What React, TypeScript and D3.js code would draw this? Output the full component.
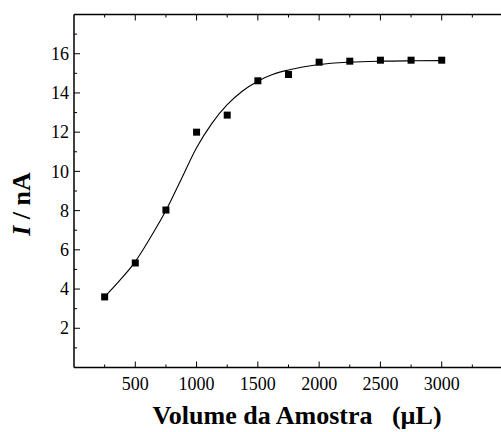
import React from "react";
import * as d3 from "d3";

const volumes = [250, 500, 750, 1000, 1250, 1500, 1750, 2000, 2250, 2500, 2750, 3000];
const currents = [3.6, 5.33, 8.03, 12.0, 12.87, 14.62, 14.94, 15.57, 15.62, 15.67, 15.67, 15.67];

const fitX = [250, 375, 500, 625, 750, 875, 1000, 1125, 1250, 1375, 1500, 1625, 1750, 2000, 2250, 2500, 2750, 3000];
const fitY = [3.6, 4.45, 5.4, 6.64, 8.0, 9.6, 11.2, 12.45, 13.4, 14.1, 14.6, 14.95, 15.17, 15.45, 15.57, 15.62, 15.64, 15.65];

const xTickLabels = [500, 1000, 1500, 2000, 2500, 3000];
const yTickLabels = [2, 4, 6, 8, 10, 12, 14, 16];

const W = 501;
const H = 432;
const L = 74, R = 503, T = 14.5, B = 367.5;
const FONT = "Liberation Serif, Times New Roman, serif";

export default function App() {
  const x = d3.scaleLinear().domain([0, 3500]).range([L, R]);
  const y = d3.scaleLinear().domain([0, 18]).range([B, T]);
  const line = d3
    .line<number>()
    .x((_, i) => x(fitX[i]))
    .y((d) => y(d))
    .curve(d3.curveMonotoneX);

  const xMajor = d3.range(500, 3501, 500);
  const xMinor = d3.range(250, 3500, 500);
  const yMajor = d3.range(2, 18.1, 2);
  const yMinor = d3.range(1, 18, 2);
  const sq = 7;

  return (
    <svg
      width={W}
      height={H}
      style={{ position: "absolute", left: 0, top: 0, background: "#fff" }}
    >
      <rect x={0} y={0} width={W} height={H} fill="#fff" />
      {/* frame */}
      <g stroke="#000" strokeWidth={1.5} fill="none">
        <line x1={L} y1={T} x2={L} y2={B} />
        <line x1={L} y1={B} x2={R} y2={B} />
        <line x1={L} y1={T} x2={R} y2={T} />
      </g>
      {/* ticks */}
      <g stroke="#000" strokeWidth={1}>
        {xMajor.map((v) => (
          <g key={"xM" + v}>
            <line x1={x(v)} x2={x(v)} y1={B} y2={B - 6} />
            <line x1={x(v)} x2={x(v)} y1={T} y2={T + 6} />
          </g>
        ))}
        {xMinor.map((v) => (
          <g key={"xm" + v}>
            <line x1={x(v)} x2={x(v)} y1={B} y2={B - 3} />
            <line x1={x(v)} x2={x(v)} y1={T} y2={T + 3} />
          </g>
        ))}
        {yMajor.map((v) => (
          <line key={"yM" + v} x1={L} x2={L + 6} y1={y(v)} y2={y(v)} />
        ))}
        {yMinor.map((v) => (
          <line key={"ym" + v} x1={L} x2={L + 3} y1={y(v)} y2={y(v)} />
        ))}
      </g>
      {/* tick labels */}
      <g fontFamily={FONT} fontSize={18} fill="#000">
        {xTickLabels.map((v) => (
          <text key={"xl" + v} x={x(v)} y={390} textAnchor="middle">
            {v}
          </text>
        ))}
        {yTickLabels.map((v) => (
          <text key={"yl" + v} x={L - 5} y={y(v)} dy="0.34em" textAnchor="end">
            {v}
          </text>
        ))}
      </g>
      {/* fit curve */}
      <path d={line(fitY) || ""} fill="none" stroke="#000" strokeWidth={1.1} />
      {/* points */}
      <g fill="#000">
        {volumes.map((v, i) => (
          <rect
            key={"p" + v}
            x={x(v) - sq / 2}
            y={y(currents[i]) - sq / 2}
            width={sq}
            height={sq}
          />
        ))}
      </g>
      {/* axis titles */}
      <text
        x={297}
        y={424}
        textAnchor="middle"
        fontFamily={FONT}
        fontWeight="bold"
        fontSize={26}
        fill="#000"
      >
        {"Volume da Amostra\u00A0\u00A0\u00A0(µL)"}
      </text>
      <text
        transform={`translate(30,204) rotate(-90)`}
        textAnchor="middle"
        fontFamily={FONT}
        fontWeight="bold"
        fontSize={26}
        fill="#000"
      >
        <tspan fontStyle="italic">I</tspan>
        {" / nA"}
      </text>
    </svg>
  );
}
